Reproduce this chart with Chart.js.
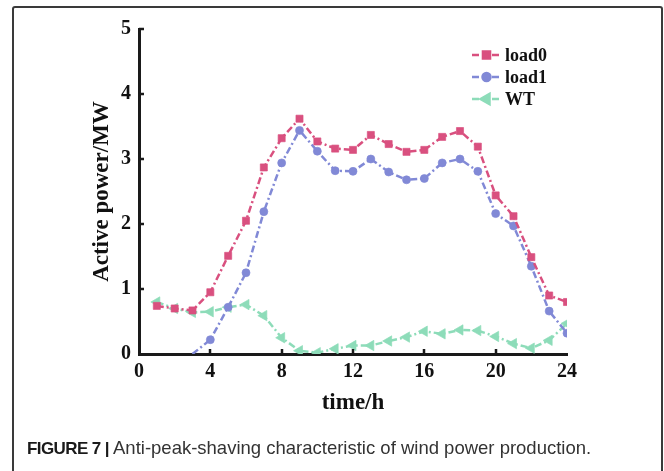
<!DOCTYPE html>
<html>
<head>
<meta charset="utf-8">
<script src="https://cdn.jsdelivr.net/npm/chart.js@4/dist/chart.umd.min.js"></script>
<style>
    html, body { margin: 0; padding: 0; background: #fff; }
    #wrap { position: relative; width: 664px; height: 471px; overflow: hidden; }
    #frame {
        position: absolute; left: 12px; top: 6px; width: 647px; height: 480px;
        border: 2px solid #3a3a3a; border-radius: 3px;
    }
    #caption {
        position: absolute; left: 27px; top: 437px; line-height: 22px;
        font-family: "Liberation Sans", Arial, sans-serif; font-size: 18.5px; color: #333;
        white-space: nowrap;
    }
    #caption b { font-weight: bold; font-size: 17px; letter-spacing: -0.6px; color: #1a1a1a; }
    #chart { position: absolute; left: 0; top: 0; }
</style>
</head>
<body>
<div id="wrap">
    <div id="frame"></div>
    <canvas id="chart" width="664" height="471"></canvas>
    <div id="caption"><b>FIGURE 7 |</b> Anti-peak-shaving characteristic of wind power production.</div>
</div>
<script>
// hours of the day
const hours = [1, 2, 3, 4, 5, 6, 7, 8, 9, 10, 11, 12, 13, 14, 15, 16, 17, 18, 19, 20, 21, 22, 23, 24];

// Active power (MW)
const load0 = [0.74, 0.70, 0.67, 0.95, 1.51, 2.05, 2.87, 3.32, 3.62, 3.27, 3.16, 3.14,
               3.37, 3.23, 3.11, 3.14, 3.34, 3.43, 3.19, 2.44, 2.12, 1.49, 0.90, 0.80];
const load1 = [null, null, 0.0, 0.22, 0.72, 1.25, 2.19, 2.94, 3.44, 3.12, 2.82, 2.81,
               3.00, 2.80, 2.68, 2.70, 2.94, 3.00, 2.81, 2.16, 1.97, 1.35, 0.66, 0.32];
const wt    = [0.80, 0.70, 0.64, 0.65, 0.72, 0.76, 0.59, 0.25, 0.05, 0.02, 0.08, 0.13,
               0.13, 0.20, 0.26, 0.35, 0.31, 0.37, 0.36, 0.27, 0.16, 0.09, 0.21, 0.47];

const seriesNames = ['load0', 'load1', 'WT'];
const xTicks = [0, 4, 8, 12, 16, 20, 24];
const yTicks = [0, 1, 2, 3, 4, 5];

const colors = ['#d9507f', '#8189d6', '#8ddcb9'];
const dash = [7, 3, 2, 3];
const serif = '"Liberation Serif", "Times New Roman", serif';

function toPoints(vals) {
    return hours.map((h, i) => ({x: h, y: vals[i]}));
}

const styles = [
    {pointStyle: 'rect', pointRadius: 5, rotation: 0},
    {pointStyle: 'circle', pointRadius: 4, rotation: 0},
    {pointStyle: 'triangle', pointRadius: 6, rotation: -90},
];

const datasets = [load0, load1, wt].map((vals, i) => ({
    label: seriesNames[i],
    data: toPoints(vals),
    borderColor: colors[i],
    backgroundColor: colors[i],
    borderWidth: 2.5,
    borderDash: dash,
    pointStyle: styles[i].pointStyle,
    pointRotation: styles[i].rotation,
    // load1 starts right on the axis with no marker shown
    pointRadius: i === 1 ? (c => (c.raw && c.raw.y === 0 ? 0 : styles[i].pointRadius)) : styles[i].pointRadius,
    pointBorderWidth: 1,
    pointBorderColor: colors[i] + 'aa',
    tension: 0,
    spanGaps: false,
}));

// ticks pointing into the plot area, like the original figure
const inwardTicks = {
    id: 'inwardTicks',
    afterDraw(chart) {
        const ctx = chart.ctx;
        const {x, y} = chart.scales;
        const area = chart.chartArea;
        ctx.save();
        ctx.strokeStyle = '#1a1a1a';
        ctx.lineWidth = 2.5;
        ctx.beginPath();
        xTicks.slice(1, -1).forEach(v => {
            const px = Math.round(x.getPixelForValue(v));
            ctx.moveTo(px, area.bottom);
            ctx.lineTo(px, area.bottom - 5);
        });
        yTicks.slice(1).forEach(v => {
            const py = Math.round(y.getPixelForValue(v));
            ctx.moveTo(area.left, py);
            ctx.lineTo(area.left + 5, py);
        });
        ctx.stroke();
        ctx.restore();
    }
};

// legend with line + marker, as in the figure
const lineLegend = {
    id: 'lineLegend',
    afterDraw(chart) {
        const ctx = chart.ctx;
        const x0 = 472, x1 = 501, y0 = 55, step = 22;
        ctx.save();
        chart.data.datasets.forEach((ds, i) => {
            const yy = y0 + i * step;
            ctx.strokeStyle = ds.borderColor;
            ctx.lineWidth = 2.5;
            ctx.setLineDash([7, 3]);
            ctx.beginPath();
            ctx.moveTo(x0, yy);
            ctx.lineTo(x1, yy);
            ctx.stroke();
            ctx.setLineDash([]);
            ctx.fillStyle = ds.backgroundColor;
            ctx.strokeStyle = ds.backgroundColor;
            Chart.helpers.drawPoint(ctx, {
                pointStyle: styles[i].pointStyle,
                radius: styles[i].pointRadius,
                rotation: styles[i].rotation,
                borderWidth: 1,
            }, (x0 + x1) / 2, yy);
            ctx.fillStyle = '#111';
            ctx.font = 'bold 18px ' + serif;
            ctx.textBaseline = 'middle';
            ctx.fillText(ds.label, 505, yy + 1);
        });
        ctx.restore();
    }
};

new Chart(document.getElementById('chart'), {
    type: 'line',
    data: {datasets: datasets},
    options: {
        responsive: false,
        animation: false,
        layout: {
            padding: {left: 84, right: 97, top: 29, bottom: 50},
        },
        plugins: {
            legend: {display: false},
            tooltip: {enabled: false},
        },
        scales: {
            x: {
                type: 'linear',
                min: 0,
                max: 24,
                afterFit: s => { s.height = 67; },
                afterBuildTicks: s => { s.ticks = xTicks.map(v => ({value: v})); },
                grid: {display: false, drawTicks: false},
                border: {display: true, color: '#1a1a1a', width: 3},
                ticks: {
                    color: '#111',
                    padding: 6,
                    font: {family: serif, size: 20, weight: 'bold'},
                },
                title: {
                    display: true,
                    text: 'time/h',
                    color: '#111',
                    font: {family: serif, size: 23, weight: 'bold'},
                },
            },
            y: {
                type: 'linear',
                min: 0,
                max: 5,
                afterFit: s => { s.width = 55; },
                afterBuildTicks: s => { s.ticks = yTicks.map(v => ({value: v})); },
                grid: {display: false, drawTicks: false},
                border: {display: true, color: '#1a1a1a', width: 3},
                ticks: {
                    color: '#111',
                    padding: 8,
                    font: {family: serif, size: 20, weight: 'bold'},
                },
                title: {
                    display: true,
                    text: 'Active power/MW',
                    color: '#111',
                    font: {family: serif, size: 23, weight: 'bold'},
                },
            },
        },
    },
    plugins: [inwardTicks, lineLegend],
});
</script>
</body>
</html>
